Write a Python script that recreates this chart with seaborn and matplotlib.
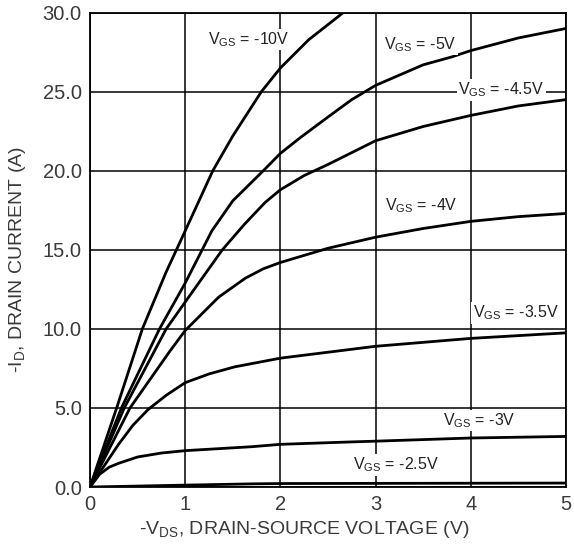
import numpy as np
import pandas as pd
import matplotlib
matplotlib.use("Agg")
import matplotlib.pyplot as plt
import seaborn as sns

# ---- data ----
vgs_labels = ["-10V", "-5V", "-4.5V", "-4V", "-3.5V", "-3V", "-2.5V"]

vds_10 = [0, 0.28, 0.55, 0.8, 1.0, 1.29, 1.5, 1.8, 2.0, 2.3, 2.66]
id_10 = [0, 5.0, 10.0, 13.6, 16.2, 20.0, 22.2, 25.0, 26.5, 28.3, 30.0]

vds_5 = [0, 0.33, 0.73, 1.0, 1.28, 1.5, 1.82, 2.0, 2.21, 2.5, 2.75, 3.0, 3.5, 3.8, 4.0, 4.5, 5.0]
id_5 = [0, 5.0, 10.0, 12.9, 16.2, 18.1, 20.0, 21.1, 22.1, 23.4, 24.5, 25.4, 26.7, 27.2, 27.6, 28.4, 29.0]

vds_45 = [0, 0.36, 0.8, 1.0, 1.39, 1.62, 1.84, 2.0, 2.25, 2.5, 3.0, 3.5, 4.0, 4.5, 5.0]
id_45 = [0, 5.0, 10.0, 11.7, 15.0, 16.6, 18.0, 18.8, 19.7, 20.4, 21.9, 22.8, 23.5, 24.1, 24.5]

vds_4 = [0, 0.42, 0.84, 1.0, 1.35, 1.63, 1.82, 2.0, 2.5, 3.0, 3.5, 4.0, 4.5, 5.0]
id_4 = [0, 5.0, 8.6, 9.9, 12.0, 13.2, 13.8, 14.2, 15.1, 15.8, 16.35, 16.8, 17.1, 17.3]

vds_35 = [0, 0.3, 0.45, 0.61, 0.8, 1.0, 1.25, 1.52, 2.0, 3.0, 4.0, 5.0]
id_35 = [0, 2.7, 3.9, 4.9, 5.8, 6.6, 7.15, 7.6, 8.15, 8.9, 9.4, 9.75]

vds_3 = [0, 0.1, 0.2, 0.3, 0.5, 0.75, 1.0, 1.7, 2.0, 2.73, 3.0, 4.0, 5.0]
id_3 = [0, 0.8, 1.25, 1.5, 1.9, 2.15, 2.3, 2.55, 2.7, 2.85, 2.9, 3.1, 3.2]

vds_25 = [0, 1.0, 1.7, 2.0, 5.0]
id_25 = [0, 0.12, 0.2, 0.22, 0.25]

x_ticks = [0, 1, 2, 3, 4, 5]
y_ticks = [0, 5, 10, 15, 20, 25, 30]
y_tick_labels = ["0.0", "5.0", "10.0", "15.0", "20.0", "25.0", "30.0"]

# label anchor positions (data coords, left edge / vertical centre)
label_x = [1.24, 3.09, 3.87, 3.10, 4.02, 3.71, 2.76]
label_y = [28.3, 28.0, 25.1, 17.8, 11.0, 4.2, 1.4]

series = [(vds_10, id_10), (vds_5, id_5), (vds_45, id_45), (vds_4, id_4),
          (vds_35, id_35), (vds_3, id_3), (vds_25, id_25)]
frames = []
for lab, (xs, ys) in zip(vgs_labels, series):
    frames.append(pd.DataFrame({"vds": xs, "id": ys, "vgs": lab}))
df = pd.concat(frames, ignore_index=True)

# ---- style ----
sns.set_style("white")
plt.rcParams["font.family"] = ["Liberation Sans", "DejaVu Sans"]
plt.rcParams["mathtext.fontset"] = "custom"
plt.rcParams["mathtext.rm"] = "Liberation Sans"
plt.rcParams["mathtext.it"] = "Liberation Sans"

fig = plt.figure(figsize=(5.74, 5.50), dpi=100)
ax = fig.add_axes([0.1568, 0.1145, 0.986 - 0.1568, 0.977 - 0.1145])

sns.lineplot(data=df, x="vds", y="id", hue="vgs", units="vgs",
             estimator=None, sort=False, legend=False,
             palette=["black"] * len(vgs_labels), linewidth=2.0, ax=ax,
             zorder=3)
for ln in ax.get_lines():
    ln.set_solid_joinstyle("round")
    ln.set_solid_capstyle("round")

ax.set_xlim(0, 5)
ax.set_ylim(0, 30)
ax.set_xticks(x_ticks)
ax.set_yticks(y_ticks)
ax.set_yticklabels(y_tick_labels)
ax.grid(True, color="black", linewidth=1.1, zorder=1)
ax.set_axisbelow(True)
for s in ax.spines.values():
    s.set_color("black")
    s.set_linewidth(1.3)
ax.tick_params(length=0, labelsize=14.5, labelcolor="#3a3a3a", pad=6)

ax.set_xlabel(r"-V$_{\mathrm{DS}}$, DRAIN-SOURCE VOLTAGE (V)", fontsize=14,
              color="#3a3a3a")
ax.set_ylabel(r"-I$_{\mathrm{D}}$, DRAIN CURRENT (A)", fontsize=14,
              color="#3a3a3a")
ax.xaxis.set_label_coords(0.45, -0.068)
ax.yaxis.set_label_coords(-0.13, 0.479)

for lab, lx, ly in zip(vgs_labels, label_x, label_y):
    ax.text(lx, ly, r"V$_{\mathrm{GS}}$ = " + lab, fontsize=11.5, color="#222222",
            ha="left", va="center", zorder=5,
            bbox=dict(facecolor="white", edgecolor="none", pad=1.0))

fig.savefig("out.png", dpi=100, facecolor="white")
